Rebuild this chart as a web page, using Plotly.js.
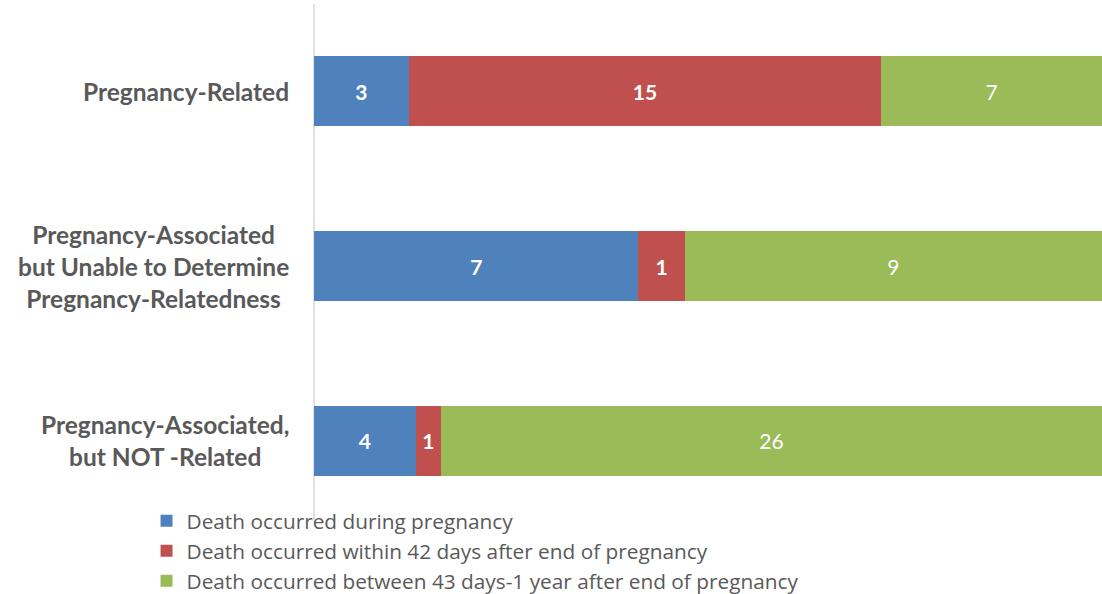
<!DOCTYPE html>
<html>
<head>
<meta charset="utf-8">
<script src="https://cdn.plot.ly/plotly-3.0.1.min.js"></script>
<style>html,body{margin:0;padding:0;background:#fff;}#chart{width:1102px;height:594px;}</style>
</head>
<body>
<div id="chart"></div>
<script>
const categories = ["Pregnancy-Related", "Pregnancy-Associated but Unable to Determine Pregnancy-Relatedness", "Pregnancy-Associated, but NOT -Related"];
const categoryLabels = ["Pregnancy-Related", "Pregnancy-Associated<br>but Unable to Determine<br>Pregnancy-Relatedness", "Pregnancy-Associated,<br>but NOT -Related"];
const seriesNames = ["Death occurred during pregnancy", "Death occurred within 42 days after end of pregnancy", "Death occurred between 43 days-1 year after end of pregnancy"];
const duringPregnancy = [3, 7, 4];
const within42Days = [15, 1, 1];
const between43DaysAnd1Year = [7, 9, 26];
const colors = ["#4F81BD", "#C0504D", "#9BBB59"];

const FONT = "Lato, 'Open Sans', sans-serif";
const LEGEND_FONT = "'Open Sans', Lato, sans-serif";
const seriesValues = [duringPregnancy, within42Days, between43DaysAnd1Year];
const boldText = [true, true, false];

const traces = seriesValues.map((vals, i) => ({
  type: "bar",
  orientation: "h",
  name: seriesNames[i],
  y: categories,
  x: vals,
  text: vals.map(String),
  texttemplate: boldText[i] ? "<b>%{text}</b>" : "%{text}",
  textposition: "inside",
  insidetextanchor: "middle",
  constraintext: "none",
  textfont: { color: "#FFFFFF", size: 21, family: FONT },
  marker: { color: colors[i], line: { width: 0 } },
  hoverinfo: "skip"
}));

const annotations = categories.map((c, i) => ({
  xref: "paper", yref: "y",
  x: 0, y: c,
  xanchor: "right", yanchor: "middle",
  xshift: -23,
  align: "center",
  text: "<b>" + categoryLabels[i] + "</b>",
  showarrow: false,
  font: { family: FONT, size: 24.5, color: "#595959" }
}));

const layout = {
  width: 1102, height: 594,
  margin: { l: 314, r: 0, t: 4, b: 66, autoexpand: false },
  paper_bgcolor: "#FFFFFF",
  plot_bgcolor: "#FFFFFF",
  barmode: "stack",
  barnorm: "percent",
  bargap: 0.6,
  showlegend: true,
  legend: {
    x: -0.2125, y: 0.052, xanchor: "left", yanchor: "top",
    traceorder: "normal",
    font: { family: LEGEND_FONT, size: 20.8, color: "#595959" },
    tracegroupgap: 0,
    itemwidth: 30,
    bgcolor: "rgba(0,0,0,0)"
  },
  xaxis: { range: [0, 100], showticklabels: false, showgrid: false, zeroline: false, showline: false, ticks: "" },
  yaxis: {
    type: "category",
    categoryorder: "array",
    categoryarray: categories.slice().reverse(),
    showticklabels: false, showgrid: false, zeroline: false,
    showline: false, ticks: ""
  },
  shapes: [{
    type: "line", xref: "paper", yref: "paper",
    x0: 0, x1: 0, y0: 0.015, y1: 1,
    line: { color: "#D9D9D9", width: 1.5 },
    layer: "below"
  }],
  annotations: annotations,
  font: { family: FONT }
};

Plotly.newPlot("chart", traces, layout, { displayModeBar: false, staticPlot: true });
</script>
</body>
</html>
